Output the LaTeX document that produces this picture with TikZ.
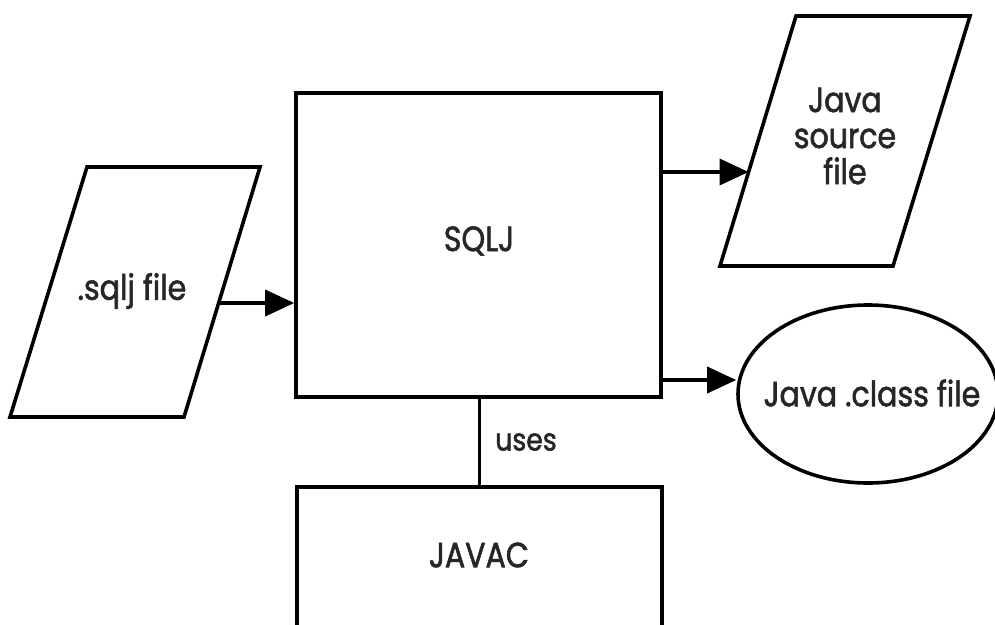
\documentclass[tikz,border=0pt]{standalone}
\usepackage{fontspec}
\setmainfont{Poppins}[FakeStretch=0.86,FakeBold=1.6]
\usetikzlibrary{arrows.meta,calc,shapes.geometric}
\begin{document}
\begin{tikzpicture}[x=1pt,y=-1pt,line width=3.6pt,line join=miter,
  every node/.style={font=\fontsize{35}{36}\selectfont,text=black!85},
  procbox/.style={draw,rectangle,inner sep=0pt},
  outfile/.style={draw,ellipse,minimum width=260pt,minimum height=178pt,inner sep=0pt},
  arr/.style={-{Triangle[length=29pt,width=26pt]}},
  lbl/.style={font=\fontsize{31}{32}\selectfont,inner sep=0pt}]
\useasboundingbox (0,0) rectangle (995,624);
\clip (0,0) rectangle (995,624);
\fill[white] (0,0) rectangle (995,624);

% processors
\node[procbox,minimum width=365pt,minimum height=304pt] (sqlj) at (478.5,245) {};
\node (sqljtext) at (479,241) {SQLJ};
\node[procbox,minimum width=365pt,minimum height=140pt] (javac) at (479.5,557) {};
\node (javactext) at (479,555) {JAVAC};

% input file (parallelogram)
\coordinate (sqlTL) at (87,167);
\coordinate (sqlTR) at (260,167);
\coordinate (sqlBR) at (184,417);
\coordinate (sqlBL) at (10,417);
\draw (sqlTL) -- (sqlTR) -- (sqlBR) -- (sqlBL) -- cycle;
\node (sql) at (132,291) {.sqlj file};

% generated source (parallelogram)
\coordinate (srcTL) at (796,16);
\coordinate (srcTR) at (970,16);
\coordinate (srcBR) at (893,266);
\coordinate (srcBL) at (720,266);
\draw (srcTL) -- (srcTR) -- (srcBR) -- (srcBL) -- cycle;
\node[align=center] (src) at (845,136) {Java\\source\\file};

% generated class file
\node[outfile] (cls) at (868,394) {};
\node (clstext) at (872,393) {Java .class file};

% connectors
\coordinate (inA) at ($(sqlTR)!0.544!(sqlBR)$);
\draw[arr] (inA) -- (inA -| sqlj.west);
\coordinate (outA) at ($(srcTL)!0.624!(srcBL)$);
\draw[arr] (sqlj.east |- outA) -- (outA);
\coordinate (outB) at ([yshift=14pt]cls.west);
\draw[arr] (sqlj.east |- outB) -- (outB);
\draw (sqlj.south -| javac.north) -- node[right=14pt,lbl] {uses} (javac.north);
\end{tikzpicture}
\end{document}
